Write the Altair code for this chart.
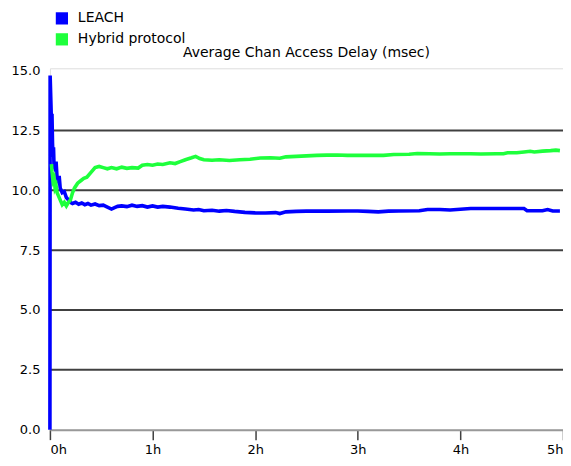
import altair as alt
import pandas as pd

# ---- data ----
leach_t = [0.000, 0.002, 0.010, 0.015, 0.020, 0.025, 0.030, 0.035, 0.040, 0.050,
           0.060, 0.070, 0.080, 0.090, 0.100, 0.120, 0.140, 0.160, 0.180, 0.200,
           0.220, 0.25, 0.28, 0.31, 0.34, 0.37, 0.40, 0.44, 0.48, 0.52,
           0.56, 0.60, 0.63, 0.66, 0.70, 0.75, 0.80, 0.85, 0.90, 0.95,
           1.00, 1.05, 1.10, 1.17, 1.25, 1.32, 1.40, 1.45, 1.50, 1.58,
           1.65, 1.72, 1.80, 1.90, 2.00, 2.10, 2.20, 2.24, 2.30, 2.40,
           2.50, 2.70, 2.90, 3.00, 3.10, 3.20, 3.30, 3.40, 3.60, 3.68,
           3.80, 3.90, 4.00, 4.10, 4.30, 4.50, 4.62, 4.65, 4.80, 4.85,
           4.90, 4.97]
leach_v = [0.0, 14.8, 13.6, 12.8, 13.2, 12.0, 11.4, 11.8, 11.0, 10.9,
           11.2, 10.5, 10.4, 10.6, 10.1, 9.9, 9.95, 9.7, 9.6, 9.5,
           9.45, 9.5, 9.42, 9.47, 9.4, 9.45, 9.38, 9.43, 9.36, 9.38,
           9.3, 9.22, 9.28, 9.33, 9.35, 9.32, 9.38, 9.33, 9.36, 9.3,
           9.35, 9.3, 9.33, 9.3, 9.25, 9.22, 9.18, 9.2, 9.15, 9.17,
           9.13, 9.16, 9.12, 9.08, 9.06, 9.05, 9.07, 9.03, 9.1, 9.12,
           9.13, 9.13, 9.14, 9.14, 9.12, 9.1, 9.13, 9.14, 9.15, 9.2,
           9.2, 9.18, 9.21, 9.24, 9.24, 9.24, 9.24, 9.15, 9.15, 9.2,
           9.14, 9.14]

hybrid_t = [0.015, 0.02, 0.03, 0.04, 0.05, 0.06, 0.07, 0.08, 0.10, 0.12,
            0.14, 0.16, 0.18, 0.20, 0.22, 0.24, 0.27, 0.30, 0.33, 0.36,
            0.40, 0.44, 0.48, 0.52, 0.56, 0.60, 0.65, 0.70, 0.75, 0.80,
            0.86, 0.90, 0.95, 1.00, 1.05, 1.10, 1.17, 1.22, 1.27, 1.32,
            1.38, 1.42, 1.46, 1.50, 1.58, 1.65, 1.75, 1.85, 1.95, 2.05,
            2.15, 2.24, 2.30, 2.40, 2.50, 2.60, 2.70, 2.80, 2.90, 3.00,
            3.10, 3.25, 3.35, 3.50, 3.58, 3.70, 3.80, 3.90, 4.00, 4.10,
            4.20, 4.35, 4.42, 4.46, 4.55, 4.62, 4.68, 4.72, 4.80, 4.88,
            4.93, 4.97]
hybrid_v = [11.1, 10.8, 10.4, 10.5, 10.1, 10.2, 9.9, 9.8, 9.6, 9.4,
            9.5, 9.35, 9.5, 9.6, 9.9, 10.1, 10.3, 10.4, 10.5, 10.55,
            10.75, 10.95, 11.0, 10.95, 10.9, 10.95, 10.9, 10.97, 10.92, 10.95,
            10.93, 11.05, 11.08, 11.05, 11.1, 11.08, 11.15, 11.12, 11.2, 11.28,
            11.36, 11.42, 11.33, 11.28, 11.26, 11.28, 11.25, 11.28, 11.3, 11.35,
            11.36, 11.34, 11.4, 11.42, 11.44, 11.46, 11.47, 11.48, 11.46, 11.46,
            11.46, 11.46, 11.5, 11.51, 11.54, 11.53, 11.52, 11.53, 11.53, 11.53,
            11.52, 11.53, 11.53, 11.57, 11.57, 11.6, 11.63, 11.6, 11.64, 11.66,
            11.68, 11.66]

series_names = ["LEACH", "Hybrid protocol"]
series_colors = ["#0000FF", "#1EFF3C"]
y_ticks = [0, 2.5, 5, 7.5, 10, 12.5, 15]
grid_values = [2.5, 5, 7.5, 10, 12.5]
x_ticks = [0, 1, 2, 3, 4, 5]
title_text = "Average Chan Access Delay (msec)"

df = pd.concat([
    pd.DataFrame({"t": leach_t, "v": leach_v, "series": series_names[0], "i": range(len(leach_t))}),
    pd.DataFrame({"t": hybrid_t, "v": hybrid_v, "series": series_names[1], "i": range(len(hybrid_t))}),
])

W, H = 514, 362
FONT = "DejaVu Sans"

xs = alt.Scale(domain=[0, 5], nice=False)
ys = alt.Scale(domain=[0, 15.1], nice=False)

color_enc = alt.Color(
    "series:N",
    scale=alt.Scale(domain=series_names, range=series_colors),
    legend=alt.Legend(title=None, orient="none", legendX=5, legendY=-57,
                      symbolType="square", symbolSize=150,
                      symbolStrokeWidth=0, symbolOpacity=1,
                      labelFont=FONT, labelFontSize=14,
                      labelColor="#000000", rowPadding=7,
                      padding=0, labelOffset=9))

grid = alt.Chart(pd.DataFrame({"g": grid_values})).mark_rule(
    color="#404040", strokeWidth=2
).encode(y=alt.Y("g:Q", scale=ys))

border = alt.Chart(pd.DataFrame({"b": [0]})).mark_rule(
    color="#a8a8a8", strokeWidth=2
).encode(x=alt.value(W + 2), y=alt.value(0), y2=alt.value(H))

x_enc = alt.X("t:Q", scale=xs, title=None,
              axis=alt.Axis(values=x_ticks, labelExpr="datum.value + 'h'",
                            tickSize=10, tickColor="#404040", tickWidth=1.5,
                            domainColor="#999999", domainWidth=2, grid=False,
                            labelFont=FONT, labelFontSize=13, labelColor="#000000",
                            labelPadding=4))
y_enc = alt.Y("v:Q", scale=ys, title=None,
              axis=alt.Axis(values=y_ticks, format=".1f", ticks=False, domain=False,
                            grid=False, labelFont=FONT, labelFontSize=13,
                            labelColor="#000000", labelPadding=10))

lines = alt.Chart(df).mark_line(strokeWidth=3.6, strokeJoin="miter").encode(
    x=x_enc, y=y_enc, color=color_enc, order="i:Q",
)

# zero-size filled squares: they only give the legend its filled swatches
swatches = alt.Chart(df).mark_square(size=0, filled=True).encode(
    x=x_enc, y=y_enc, color=color_enc,
)

title = alt.Chart(pd.DataFrame({"t": [title_text]})).mark_text(
    font=FONT, fontSize=14, color="#000000", baseline="middle", align="center"
).encode(text="t:N", x=alt.value(W / 2), y=alt.value(-15))

chart = alt.layer(grid, border, lines, swatches, title).properties(
    width=W, height=H,
    padding={"left": 42, "top": 60, "right": 0, "bottom": 28},
    autosize=alt.AutoSizeParams(type="none"),
).configure_view(stroke=None).configure(background="#FFFFFF")

chart.save("out.html", embed_options={"renderer": "svg", "actions": False})
